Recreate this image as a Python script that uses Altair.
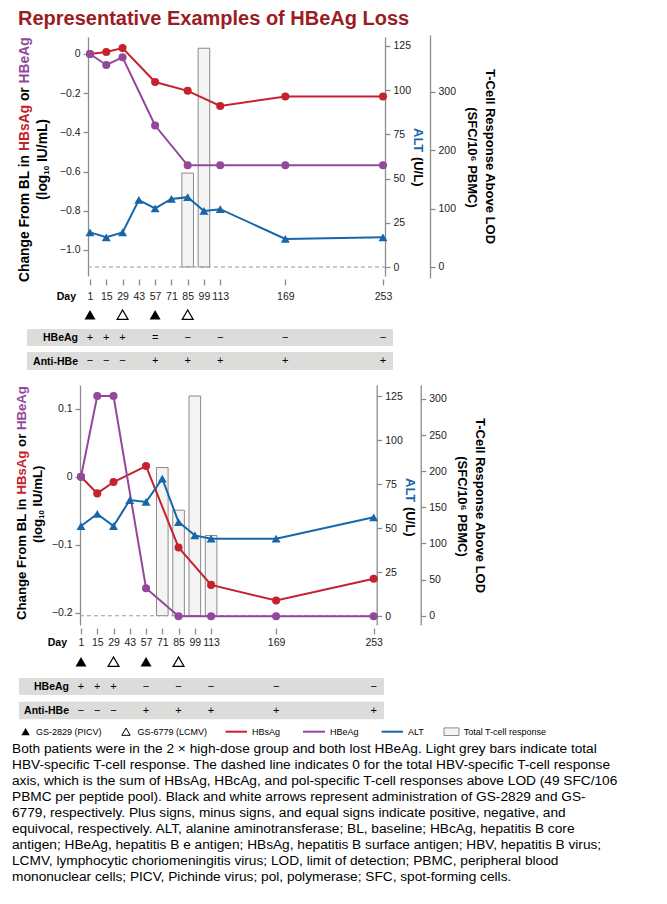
import altair as alt
import pandas as pd

# ---------------- data ----------------
days = [1, 15, 29, 43, 57, 71, 85, 99, 113, 169, 253]
lab_days = [1, 15, 29, 57, 85, 113, 169, 253]

p1_hbsag = [0, 0.01, 0.03, -0.143, -0.188, -0.265, -0.217, -0.217]
p1_hbeag = [0, -0.056, -0.017, -0.365, -0.568, -0.568, -0.568, -0.568]
p1_alt = [19.6, 16.8, 19.6, 37.9, 33.2, 38.5, 39.5, 31.7, 32.7, 15.9, 16.8]
p1_tcell_days = [85, 99]
p1_tcell = [161, 375]

p2_hbsag = [0, -0.0245, -0.0078, 0.0157, -0.104, -0.159, -0.182, -0.150]
p2_hbeag = [0, 0.1186, 0.1186, -0.164, -0.205, -0.205, -0.205, -0.205]
p2_alt = [51.1, 58.0, 51.1, 65.9, 64.8, 78.0, 53.4, 45.8, 43.9, 43.9, 56.1]
p2_tcell_days = [71, 85, 99, 113]
p2_tcell = [205, 146, 304, 111]

gs2829_days = [1, 57]
gs6779_days = [29, 85]

p1_hbeag_status = ["+", "+", "+", "=", "\u2212", "\u2212", "\u2212", "\u2212"]
p1_antihbe_status = ["\u2212", "\u2212", "\u2212", "+", "+", "+", "+", "+"]
p2_hbeag_status = ["+", "+", "+", "\u2212", "\u2212", "\u2212", "\u2212", "\u2212"]
p2_antihbe_status = ["\u2212", "\u2212", "\u2212", "+", "+", "+", "+", "+"]

p1_left_ticks = [0, -0.2, -0.4, -0.6, -0.8, -1.0]
p2_left_ticks = [0.1, 0, -0.1, -0.2]
alt_ticks = [0, 25, 50, 75, 100, 125]
p1_tc_ticks = [0, 100, 200, 300]
p2_tc_ticks = [0, 50, 100, 150, 200, 250, 300]

title_text = "Representative Examples of HBeAg Loss"
caption_lines = [
    "Both patients were in the 2 \u00d7 high-dose group and both lost HBeAg. Light grey bars indicate total",
    "HBV-specific T-cell response. The dashed line indicates 0 for the total HBV-specific T-cell response",
    "axis, which is the sum of HBsAg, HBcAg, and pol-specific T-cell responses above LOD (49 SFC/106",
    "PBMC per peptide pool). Black and white arrows represent administration of GS-2829 and GS-",
    "6779, respectively. Plus signs, minus signs, and equal signs indicate positive, negative, and",
    "equivocal, respectively. ALT, alanine aminotransferase; BL, baseline; HBcAg, hepatitis B core",
    "antigen; HBeAg, hepatitis B e antigen; HBsAg, hepatitis B surface antigen; HBV, hepatitis B virus;",
    "LCMV, lymphocytic choriomeningitis virus; LOD, limit of detection; PBMC, peripheral blood",
    "mononuclear cells; PICV, Pichinde virus; pol, polymerase; SFC, spot-forming cells.",
]

# ---------------- style ----------------
FONT = "Liberation Sans"
RED = "#C4222E"
PURPLE = "#93489C"
BLUE = "#1666A9"
TITLE_RED = "#9B1C22"
AX = "#8C8C8C"
BAND = "#DCDCDB"
W, H = 650, 886
one = pd.DataFrame({"a": [0]})


def txt(text, x, y, size, color="black", bold=False, angle=0, align="left", baseline="middle"):
    kw = dict(text=text, font=FONT, fontSize=size, color=color, align=align, baseline=baseline)
    if bold:
        kw["fontWeight"] = "bold"
    if angle:
        kw["angle"] = angle
    return alt.Chart(one).mark_text(**kw).encode(x=alt.value(x), y=alt.value(y))


def yaxis(orient, offset, values, label_expr=None, fmt=None):
    kw = dict(orient=orient, offset=offset, values=values, title=None, grid=False,
              domainColor=AX, tickColor=AX, domainWidth=1.3, tickWidth=1.3, tickSize=5,
              labelPadding=3, labelFont=FONT, labelFontSize=10.5, labelColor="#222",
              labelFlush=False, labelOverlap=False, labelBound=False)
    if label_expr:
        kw["labelExpr"] = label_expr
    if fmt:
        kw["format"] = fmt
    return alt.Axis(**kw)


LEFT_EXPR = "datum.value == 0 ? '0' : format(datum.value, '.1f')"

# em widths (Arial/Liberation Sans Bold)
EM_CHANGE = 9.501   # "Change From BL in "
EM_HBSAG = 3.333
EM_SP = 0.278
EM_OR = 1.000       # "or"
EM_LOG = 1.833      # "(log"
EM_ALT = 1.944      # "ALT"


def panel(P, hbsag, hbeag, altv, tcd, tcv, hbeag_status, anti_status):
    xs = alt.Scale(domain=P["xdom"], range=[P["xl"], P["xr"]], nice=False, zero=False)
    ls = alt.Scale(domain=P["ldom"], range=[P["yb"], P["yt"]], nice=False, zero=False)
    ascl = alt.Scale(domain=P["adom"], range=[P["yb"], P["yt"]], nice=False, zero=False)
    ts = alt.Scale(domain=P["tdom"], range=P["trange"], nice=False, zero=False)
    xnone = alt.X("day:Q", scale=xs, axis=None)

    layers = []
    # T-cell bars
    bars_df = pd.DataFrame({"day": tcd, "val": tcv})
    layers.append(
        alt.Chart(bars_df)
        .transform_calculate(x0="datum.day - 5", x1="datum.day + 5", z="0")
        .mark_rect(fill="#F4F4F4", stroke="#8A8A8A", strokeWidth=1)
        .encode(
            x=alt.X("x0:Q", scale=xs, axis=None),
            x2="x1:Q",
            y=alt.Y("val:Q", scale=ts, axis=yaxis("right", P["tx"] - W, P["tticks"], fmt="d")),
            y2="z:Q",
        )
    )
    # dashed zero line of T-cell axis
    layers.append(
        alt.Chart(pd.DataFrame({"v": [0]}))
        .mark_rule(color="#9A9A9A", strokeDash=[4, 3], strokeWidth=1.1)
        .encode(x=alt.value(P["xl"]), x2=alt.value(P["xr"]),
                y=alt.Y("v:Q", scale=ts, axis=None))
    )

    xaxis = alt.Axis(orient="bottom", offset=P["xaxis_y"] - H, values=days, domain=False,
                     ticks=True, tickSize=6, tickColor=AX, tickWidth=1.3, grid=False,
                     labelFont=FONT, labelFontSize=10.5, labelColor="#222",
                     labelBaseline="middle", labelPadding=P["xlabpad"], format="d",
                     title=None, labelFlush=False, labelOverlap=False, labelBound=False)

    red_df = pd.DataFrame({"day": lab_days, "val": hbsag})
    pur_df = pd.DataFrame({"day": lab_days, "val": hbeag})
    alt_df = pd.DataFrame({"day": days, "val": altv})

    layers.append(alt.Chart(red_df).mark_line(color=RED, strokeWidth=2).encode(
        x=alt.X("day:Q", scale=xs, axis=xaxis),
        y=alt.Y("val:Q", scale=ls, axis=yaxis("left", -P["xl"], P["lticks"], label_expr=LEFT_EXPR))))
    layers.append(alt.Chart(red_df).mark_circle(color=RED, size=65, opacity=1).encode(
        x=xnone, y=alt.Y("val:Q", scale=ls, axis=None)))
    layers.append(alt.Chart(pur_df).mark_line(color=PURPLE, strokeWidth=2).encode(
        x=xnone, y=alt.Y("val:Q", scale=ls, axis=None)))
    layers.append(alt.Chart(pur_df).mark_circle(color=PURPLE, size=65, opacity=1).encode(
        x=xnone, y=alt.Y("val:Q", scale=ls, axis=None)))
    layers.append(alt.Chart(alt_df).mark_line(color=BLUE, strokeWidth=2).encode(
        x=xnone,
        y=alt.Y("val:Q", scale=ascl, axis=yaxis("right", P["xr"] - W, alt_ticks, fmt="d"))))
    layers.append(alt.Chart(alt_df).mark_point(shape="triangle-up", filled=True, color=BLUE,
                                               size=80, opacity=1).encode(
        x=xnone, y=alt.Y("val:Q", scale=ascl, axis=None)))

    # dosing markers
    layers.append(alt.Chart(pd.DataFrame({"day": gs2829_days}))
                  .mark_point(shape="triangle-up", filled=True, color="black", size=120, opacity=1)
                  .encode(x=xnone, y=alt.value(P["tri_y"])))
    layers.append(alt.Chart(pd.DataFrame({"day": gs6779_days}))
                  .mark_point(shape="triangle-up", filled=True, fill="white", stroke="black",
                              strokeWidth=1.2, size=120, opacity=1)
                  .encode(x=xnone, y=alt.value(P["tri_y"])))

    # status table
    for (bx0, bx1, by0, by1), name, status in [
        (P["band1"], "HBeAg", hbeag_status),
        (P["band2"], "Anti-HBe", anti_status),
    ]:
        layers.append(alt.Chart(one).mark_rect(color=BAND).encode(
            x=alt.value(bx0), x2=alt.value(bx1), y=alt.value(by0), y2=alt.value(by1)))
        yc = (by0 + by1) / 2
        layers.append(txt(name, P["lab_x"], yc + 0.5, 10.5, bold=True, align="right"))
        layers.append(
            alt.Chart(pd.DataFrame({"day": lab_days, "s": status}))
            .mark_text(font=FONT, fontSize=11, baseline="middle", align="center", color="black")
            .encode(x=xnone, y=alt.value(yc), text="s:N"))

    layers.append(txt("Day", P["day_x"], P["day_y"], 10.5, bold=True, align="right"))

    # left multi-colored axis title (rotated)
    f = P["tf"]
    x1 = P["t1x"]
    s0 = P["t1y"]
    s1 = s0 - EM_CHANGE * f
    s2 = s1 - EM_HBSAG * f - EM_SP * f
    s3 = s2 - EM_OR * f - EM_SP * f
    layers.append(txt("Change From BL in", x1, s0, f, bold=True, angle=270))
    layers.append(txt("HBsAg", x1, s1, f, color=RED, bold=True, angle=270))
    layers.append(txt("or", x1, s2, f, bold=True, angle=270))
    layers.append(txt("HBeAg", x1, s3, f, color=PURPLE, bold=True, angle=270))
    x2 = P["t2x"]
    u0 = P["t2y"]
    sub = f * 0.58
    u1 = u0 - EM_LOG * f
    u2 = u1 - 1.112 * sub - EM_SP * f
    layers.append(txt("(log", x2, u0, f, bold=True, angle=270))
    layers.append(txt("10", x2 + 3.5, u1, sub, bold=True, angle=270))
    layers.append(txt("IU/mL)", x2, u2, f, bold=True, angle=270))

    # ALT title
    af = 13
    layers.append(txt("ALT", P["ax"], P["ay"], af, color=BLUE, bold=True, angle=90))
    layers.append(txt("(U/L)", P["ax"], P["ay"] + (EM_ALT + EM_SP) * af, af, bold=True, angle=90))

    # T-cell title
    layers.append(txt("T-Cell Response Above LOD", P["tc1x"], P["tc1y"], 13, bold=True,
                      angle=90, align="center"))
    layers.append(txt("(SFC/10\u2076 PBMC)", P["tc2x"], P["tc2y"], 13, bold=True,
                      angle=90, align="center"))
    return layers


P1 = dict(xl=80, xr=377, xdom=[-0.72, 254.72], yt=29, yb=268,
          ldom=[-1.1327, 0.0867], adom=[-5.09, 130.09],
          trange=[270, 27], tdom=[-18.9, 397.7], tx=422,
          lticks=p1_left_ticks, tticks=p1_tc_ticks,
          xaxis_y=271, xlabpad=11.7, tri_y=306.7,
          band1=(19, 385, 321, 338), band2=(19, 385, 344, 362), lab_x=70,
          day_x=68, day_y=288.7,
          tf=13.8, t1x=17, t1y=274, t2x=35, t2y=192,
          ax=410, ay=120, tc1x=482, tc1y=148.5, tc2x=464, tc2y=149.5)

P2 = dict(xl=72, xr=368.7, xdom=[0.14, 255.6], yt=377, yb=617,
          ldom=[-0.218, 0.1349], adom=[-5.11, 131.25],
          trange=[617, 377], tdom=[-12.9, 319.2], tx=412.7,
          lticks=p2_left_ticks, tticks=p2_tc_ticks,
          xaxis_y=620, xlabpad=8.7, tri_y=653.7,
          band1=(11, 376, 670, 687), band2=(11, 376, 693.7, 711.3), lab_x=61,
          day_x=59, day_y=634.7,
          tf=13.2, t1x=13.7, t1y=612, t2x=30, t2y=535,
          ax=402, ay=470, tc1x=472, tc1y=497.5, tc2x=453.7, tc2y=498.5)

layers = []
layers.append(txt(title_text, 10, 17, 20, color=TITLE_RED, bold=True, baseline="alphabetic"))
layers += panel(P1, p1_hbsag, p1_hbeag, p1_alt, p1_tcell_days, p1_tcell,
                p1_hbeag_status, p1_antihbe_status)
layers += panel(P2, p2_hbsag, p2_hbeag, p2_alt, p2_tcell_days, p2_tcell,
                p2_hbeag_status, p2_antihbe_status)

# legend
LY = 723.7
layers.append(alt.Chart(one).mark_point(shape="triangle-up", filled=True, color="black",
                                        size=70, opacity=1).encode(x=alt.value(17.6), y=alt.value(LY)))
layers.append(txt("GS-2829 (PICV)", 28, LY, 9))
layers.append(alt.Chart(one).mark_point(shape="triangle-up", filled=True, fill="white",
                                        stroke="black", strokeWidth=1, size=70, opacity=1)
              .encode(x=alt.value(118), y=alt.value(LY)))
layers.append(txt("GS-6779 (LCMV)", 129.6, LY, 9))
for xa, xb, col, lab in [(217.6, 239, RED, "HBsAg"), (295, 317, PURPLE, "HBeAg"), (373.6, 395, BLUE, "ALT")]:
    layers.append(alt.Chart(one).mark_rule(color=col, strokeWidth=2).encode(
        x=alt.value(xa), x2=alt.value(xb), y=alt.value(LY)))
    layers.append(txt(lab, xb + 5, LY, 9))
layers.append(alt.Chart(one).mark_rect(fill="#F4F4F4", stroke="#8A8A8A", strokeWidth=1).encode(
    x=alt.value(436), x2=alt.value(451), y=alt.value(LY - 3.8), y2=alt.value(LY + 3.8)))
layers.append(txt("Total T-cell response", 455.7, LY, 9))

# caption
layers.append(alt.Chart(one).mark_text(text=caption_lines, font=FONT, fontSize=13.7,
                                       lineHeight=16, align="left", baseline="alphabetic",
                                       color="black")
              .encode(x=alt.value(4), y=alt.value(744.7)))

chart = (
    alt.layer(*layers)
    .resolve_scale(x="independent", y="independent")
    .properties(width=W, height=H, autosize=alt.AutoSizeParams(type="none"), padding=0)
    .configure_view(stroke=None)
)

chart.save("out.html", embed_options={"renderer": "svg", "actions": False})
